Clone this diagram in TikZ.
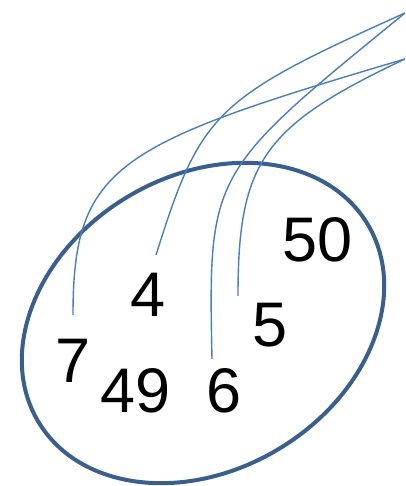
\documentclass[tikz,border=0pt]{standalone}
\usepackage{fontspec}
\setmainfont{Liberation Sans}
\definecolor{ringblue}{RGB}{58,95,140}
\definecolor{linkblue}{RGB}{74,126,187}
\begin{document}
\begin{tikzpicture}[x=1pt,y=1pt,
  num/.style={inner sep=0pt,font=\fontsize{63}{63}\selectfont},
  ring/.style={draw=ringblue,line width=4pt},
  link/.style={draw=linkblue,line width=1.4pt}]
\useasboundingbox (0,0) rectangle (405,486);
\draw[ring,rotate around={31:(203,163)}] (203,163) ellipse [x radius=192, y radius=147];
\node[num] (n50) at (318,246) {50};
\node[num] (n4) at (148,191) {4};
\node[num] (n5) at (270,161) {5};
\node[num] (n7) at (73,125) {7};
\node[num] (n49) at (136,95) {49};
\node[num] (n6) at (224,95) {6};
\coordinate (tA) at (405,473);
\coordinate (tB) at (405,427);
\coordinate (e7) at (73,171);
\coordinate (e4) at (156,231);
\coordinate (e6) at (212,127);
\coordinate (e5) at (238,190);
\draw[link] (e7) .. controls (73,321) and (117,342) .. (tB);
\draw[link] (e4) .. controls (201,374) and (214,387) .. (tA);
\draw[link] (e6) .. controls (208,314) and (210,314) .. (tA);
\draw[link] (e5) .. controls (238,324) and (263,360) .. (tB);
\end{tikzpicture}
\end{document}
